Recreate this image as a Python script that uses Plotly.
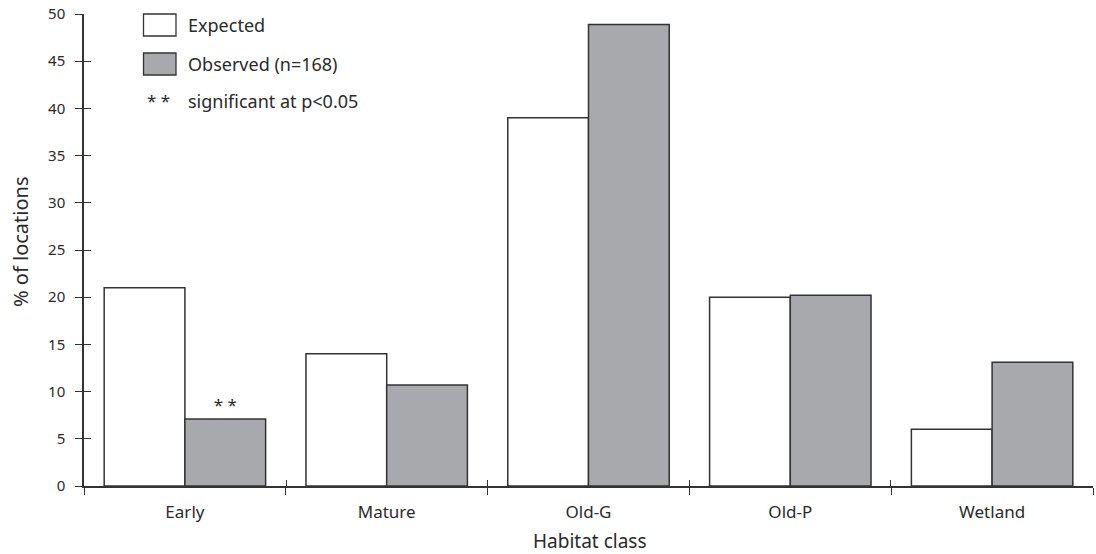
import plotly.graph_objects as go

# Habitat use: expected vs observed share of locations per habitat class
habitat_classes = ["Early", "Mature", "Old-G", "Old-P", "Wetland"]
expected_pct = [21.0, 14.0, 39.0, 20.0, 6.0]
observed_pct = [7.1, 10.7, 48.9, 20.2, 13.1]
significance = ["**", "", "", "", ""]
y_tick_values = [0, 5, 10, 15, 20, 25, 30, 35, 40, 45, 50]

legend_labels = ["Expected", "Observed (n=168)", "significant at p<0.05"]

# Page geometry (pixels) used for legend / title placement in paper space
W, H = 1096, 554
L, R, T, B = 84, 3, 14, 68
PLOT_W = W - L - R
PLOT_H = H - T - B


def px(x):
    return (x - L) / PLOT_W


def py(y):
    return (H - B - y) / PLOT_H


FONT = "Noto Sans"
TEXT = "#2a2a2a"
EDGE = "#333333"
GREY = "#a8a9ad"

n_cat = len(habitat_classes)
boundaries = [i - 0.5 for i in range(n_cat + 1)]
# overlay ranges are padded a hair so the end ticks are not dropped
EPS_X, EPS_Y = 0.002, 0.02

fig = go.Figure()

fig.add_trace(go.Bar(
    name=legend_labels[0], x=habitat_classes, y=expected_pct,
    marker=dict(color="white", line=dict(color=EDGE, width=1.5)),
    hoverinfo="x+y",
))
fig.add_trace(go.Bar(
    name=legend_labels[1], x=habitat_classes, y=observed_pct,
    marker=dict(color=GREY, line=dict(color=EDGE, width=1.5)),
    text=[" ".join(s) for s in significance],
    textposition="outside",
    textfont=dict(family=FONT, size=17, color=TEXT),
    cliponaxis=False,
    hoverinfo="x+y",
))
# Empty trace so the overlay axes (inner half of the crossing ticks) get drawn
fig.add_trace(go.Scatter(
    x=[], y=[], xaxis="x2", yaxis="y2", mode="markers",
    showlegend=False, hoverinfo="skip",
))

axis_common = dict(showgrid=False, zeroline=False)

fig.update_layout(
    width=W, height=H,
    margin=dict(l=L, r=R, t=T, b=B, pad=0),
    paper_bgcolor="white", plot_bgcolor="white",
    showlegend=False,
    barmode="group", bargap=0.2, bargroupgap=0,
    font=dict(family=FONT, color=TEXT),
    xaxis=dict(
        type="category", categoryorder="array", categoryarray=habitat_classes,
        range=[-0.5, n_cat - 0.5],
        tickson="boundaries", ticks="outside", ticklen=7,
        tickwidth=1.3, tickcolor=EDGE,
        showline=True, linecolor=EDGE, linewidth=1.5,
        tickfont=dict(family=FONT, size=17, color=TEXT),
        ticklabelstandoff=10,
        **axis_common,
    ),
    xaxis2=dict(
        overlaying="x", anchor="y", side="bottom", type="linear",
        range=[-0.5 - EPS_X, n_cat - 0.5 + EPS_X],
        tickmode="array", tickvals=boundaries,
        ticks="inside", ticklen=6, tickwidth=1.3, tickcolor=EDGE,
        showticklabels=False, showline=False,
        **axis_common,
    ),
    yaxis=dict(
        range=[0, 50], tickmode="array", tickvals=y_tick_values,
        ticks="outside", ticklen=7, tickwidth=1.3, tickcolor=EDGE,
        showline=True, linecolor=EDGE, linewidth=1.5,
        tickfont=dict(family=FONT, size=15, color=TEXT),
        ticklabelstandoff=7,
        **axis_common,
    ),
    yaxis2=dict(
        overlaying="y", anchor="x", side="left",
        range=[0 - EPS_Y, 50 + EPS_Y], tickmode="array", tickvals=y_tick_values,
        ticks="inside", ticklen=7, tickwidth=1.3, tickcolor=EDGE,
        showticklabels=False, showline=False,
        **axis_common,
    ),
)

# Axis titles
fig.add_annotation(
    text="% of locations", xref="paper", yref="paper",
    x=px(20), y=py(242), xanchor="center", yanchor="middle",
    textangle=-90, showarrow=False,
    font=dict(family=FONT, size=20, color=TEXT),
)
fig.add_annotation(
    text="Habitat class", xref="paper", yref="paper",
    x=px(590), y=py(541), xanchor="center", yanchor="middle",
    showarrow=False, font=dict(family=FONT, size=19, color=TEXT),
)

# Key in the upper-left corner
swatches = [("white", 25), (GREY, 64)]
for fill, cy in swatches:
    fig.add_shape(
        type="rect", xref="paper", yref="paper",
        x0=px(143.5), x1=px(176), y0=py(cy - 11), y1=py(cy + 11),
        fillcolor=fill, line=dict(color=EDGE, width=1.3), layer="above",
    )
key_rows = [25, 64, 101]
for label, cy in zip(legend_labels, key_rows):
    fig.add_annotation(
        text=label, xref="paper", yref="paper",
        x=px(186), y=py(cy), xanchor="left", yanchor="middle",
        showarrow=False, font=dict(family=FONT, size=18, color=TEXT),
    )
fig.add_annotation(
    text=" ".join(significance[0]), xref="paper", yref="paper",
    x=px(158.5), y=py(101), xanchor="center", yanchor="middle",
    showarrow=False, font=dict(family=FONT, size=17, color=TEXT),
)

fig.write_html("out.html")
